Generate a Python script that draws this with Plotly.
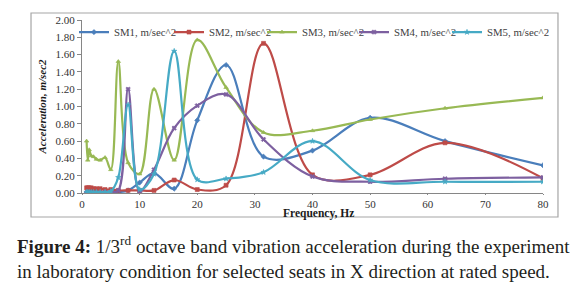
import plotly.graph_objects as go

freq = [0.8, 1, 1.25, 1.6, 2, 2.5, 3.15, 4, 5, 6.3, 8, 10, 12.5, 16, 20, 25, 31.5, 40, 50, 63, 80]
sm1 = [0.01, 0.01, 0.01, 0.01, 0.01, 0.01, 0.01, 0.01, 0.01, 0.01, 0.03, 0.12, 0.23, 0.05, 0.84, 1.48, 0.42, 0.49, 0.87, 0.60, 0.32]
sm2 = [0.06, 0.06, 0.06, 0.06, 0.05, 0.05, 0.05, 0.04, 0.04, 0.03, 0.03, 0.03, 0.03, 0.15, 0.04, 0.09, 1.73, 0.21, 0.21, 0.58, 0.17]
sm3 = [0.60, 0.38, 0.50, 0.43, 0.42, 0.39, 0.38, 0.41, 0.27, 1.52, 0.35, 0.22, 1.20, 0.38, 1.77, 1.22, 0.70, 0.72, 0.85, 0.98, 1.10]
sm4 = [0.0, 0.0, 0.0, 0.0, 0.0, 0.0, 0.0, 0.01, 0.01, 0.03, 1.20, 0.02, 0.27, 0.75, 1.01, 1.14, 0.62, 0.19, 0.13, 0.165, 0.18]
sm5 = [0.01, 0.01, 0.01, 0.01, 0.01, 0.01, 0.01, 0.01, 0.02, 0.18, 1.02, 0.04, 0.22, 1.64, 0.155, 0.165, 0.24, 0.60, 0.15, 0.13, 0.13]

names = ["SM1, m/sec^2", "SM2, m/sec^2", "SM3, m/sec^2", "SM4, m/sec^2", "SM5, m/sec^2"]
series = [sm1, sm2, sm3, sm4, sm5]
colors = ["#4A7EBB", "#BE4B48", "#98B954", "#7D60A0", "#46AAC5"]
symbols = ["diamond", "square", "triangle-up", "x", "star"]

x_ticks = [0, 10, 20, 30, 40, 50, 60, 70, 80]
y_ticks = [0.0, 0.2, 0.4, 0.6, 0.8, 1.0, 1.2, 1.4, 1.6, 1.8, 2.0]

SERIF = "Liberation Serif"

# page body has an 8px default margin; the figure is sized so it ends at the window edge
W, H = 578, 282
PLOT_L, PLOT_R = 82, 543          # absolute px in the window
LEGEND_LINE_STARTS = [85, 180, 273, 365, 458]

legend_ids = ["legend", "legend2", "legend3", "legend4", "legend5"]

fig = go.Figure()
for name, ys, c, s, lg in zip(names, series, colors, symbols, legend_ids):
    fig.add_trace(go.Scatter(
        x=freq, y=ys, name=name, mode="lines+markers", legend=lg,
        line=dict(color=c, width=2.2, shape="spline", smoothing=1.0),
        marker=dict(symbol=s, size=4, color=c, line=dict(width=0.6, color=c)),
    ))

legend_common = dict(
    orientation="h", xanchor="left", yref="paper", y=0.93, yanchor="middle",
    font=dict(family=SERIF, size=10.8, color="#404040"),
    bgcolor="rgba(0,0,0,0)", itemwidth=30, borderwidth=0,
)
legend_layout = {}
for lg, ls in zip(legend_ids, LEGEND_LINE_STARTS):
    legend_layout[lg] = dict(legend_common, xref="paper", x=(ls - 11 - PLOT_L) / (PLOT_R - PLOT_L))

fig.update_layout(
    width=W, height=H,
    margin=dict(l=74, r=43, t=12, b=97, autoexpand=False),
    paper_bgcolor="white", plot_bgcolor="white",
    font=dict(family=SERIF, color="#333333", size=11),
    showlegend=True,
    xaxis=dict(
        range=[0, 80], tickvals=x_ticks, ticktext=[str(v) for v in x_ticks],
        showgrid=False, zeroline=False, showline=True, linecolor="#868686", linewidth=1,
        ticks="outside", ticklen=1, tickcolor="#868686",
        tickfont=dict(family=SERIF, size=11, color="#333333"),
    ),
    yaxis=dict(
        range=[0, 2.0], tickvals=y_ticks, ticktext=[f"{v:.2f}" for v in y_ticks],
        showgrid=False, zeroline=False, showline=True, linecolor="#868686", linewidth=1,
        ticks="outside", ticklen=4, tickcolor="#868686",
        tickfont=dict(family=SERIF, size=11, color="#333333"),
        title=dict(text="Acceleration, m/sec2", standoff=6,
                   font=dict(family=SERIF, size=11, color="#1a1a1a", weight="bold", style="italic")),
    ),
    **legend_layout,
)

# x-axis title (sits close to the tick labels, as in the reference)
fig.add_annotation(
    xref="paper", yref="paper", x=0.514, y=-0.118, xanchor="center", yanchor="middle",
    showarrow=False, text="<b>Frequency, Hz</b>",
    font=dict(family=SERIF, size=11.5, color="#1a1a1a"),
)

# outer chart border
fig.add_shape(type="rect", xref="paper", yref="paper",
              x0=-0.1106, x1=1.0325, y0=-0.1387, y1=1.0405,
              line=dict(color="#A6A6A6", width=1.2), fillcolor="rgba(0,0,0,0)", layer="below")

# caption
fig.add_annotation(
    xref="paper", yref="paper", x=-0.1453, y=-0.22, xanchor="left", yanchor="top",
    align="left", showarrow=False,
    text=("<b>Figure 4:</b> 1/3<sup>rd</sup> octave band vibration acceleration during the experiment"
          "<br>in laboratory condition for selected seats in X direction at rated speed."),
    font=dict(family=SERIF, size=19, color="#231F20"),
)

fig.write_html("out.html", config={"displayModeBar": False})
